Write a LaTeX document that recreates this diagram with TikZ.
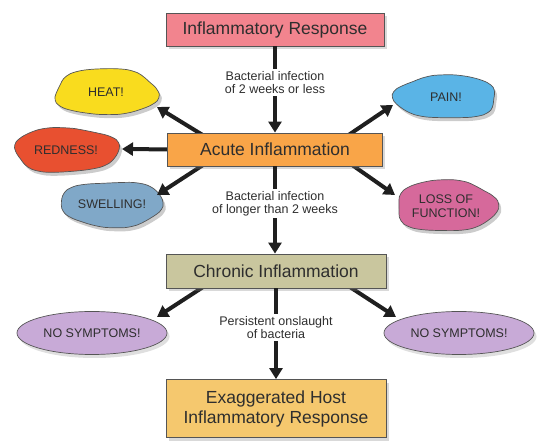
\documentclass[tikz,border=0pt]{standalone}
\usepackage{fontspec}
\setmainfont{Liberation Sans}
\usetikzlibrary{arrows.meta,shadows,backgrounds,shapes.geometric,calc}
\definecolor{cpink}{HTML}{F2848E}
\definecolor{corange}{HTML}{F9A548}
\definecolor{ckhaki}{HTML}{C9C69E}
\definecolor{cgold}{HTML}{F5C86E}
\definecolor{cheat}{HTML}{F9DC1E}
\definecolor{cred}{HTML}{E85030}
\definecolor{cswell}{HTML}{80A8C8}
\definecolor{cpain}{HTML}{5AB4E6}
\definecolor{closs}{HTML}{D6699B}
\definecolor{clav}{HTML}{C8AAD7}
\definecolor{txt}{HTML}{2E2E2E}
\definecolor{boxline}{HTML}{555555}
\newcommand{\blobshape}[3]{%
    plot[smooth cycle, variable=\t, samples at={5,20,...,350}]
    ({#1*(1+0.04*sin(3*\t+#3)+0.03*sin(5*\t+2*#3))*cos(\t)/pow(abs(cos(\t))+0.001,0.15)},
     {#2*(1+0.04*sin(3*\t+#3)+0.03*sin(5*\t+2*#3))*sin(\t)/pow(abs(sin(\t))+0.001,0.06)})}
\newcommand{\myblob}[5]{%
  \fill[black, opacity=0.2, shift={($(#1)+(2.5,3.5)$)}] \blobshape{#2}{#3}{#5};
  \draw[fill=#4, draw=boxline, line width=0.7pt, shift={(#1)}] \blobshape{#2}{#3}{#5};
}
\begin{document}
\begin{tikzpicture}[x=1pt,y=-1pt,
  box/.style={draw=boxline, line width=0.8pt, minimum height=33pt, minimum width=218pt,
    font=\fontsize{17.5}{20}\selectfont, text=txt,
    drop shadow={opacity=0.3, shadow xshift=2.5pt, shadow yshift=-3.5pt}},
  lbl/.style={fill=white, font=\fontsize{12.5}{13.5}\selectfont, text=txt, align=center, inner sep=2pt},
  cl/.style={font=\fontsize{12.5}{14}\selectfont, text=txt, align=center, inner sep=0pt},
  ell/.style={ellipse, draw=boxline, line width=0.7pt, fill=clav, minimum width=150pt, minimum height=43pt,
    font=\fontsize{12.5}{14}\selectfont, text=txt, inner sep=0pt,
    drop shadow={opacity=0.25, shadow xshift=2.5pt, shadow yshift=-3.5pt}},
  arr/.style={line width=4pt, -{Triangle[length=11pt,width=13pt]}, black!88},
]
\useasboundingbox (0,0) rectangle (547,443);

% main boxes
\node[box, fill=cpink] (resp) at (275,29.5) {Inflammatory Response};
\node[box, fill=corange, minimum width=215pt] (acute) at (275,149.5) {Acute Inflammation};
\node[box, fill=ckhaki, minimum width=220pt, minimum height=34pt] (chronic) at (276,271) {Chronic Inflammation};
\node[box, fill=cgold, minimum width=220pt, minimum height=58pt, align=center,
  font=\fontsize{17.5}{20}\selectfont] (exag) at (276,408.5) {Exaggerated Host\\Inflammatory Response};

% clouds (text nodes)
\node[cl] (heat) at (106,92) {HEAT!};
\node[cl] (red) at (66,150) {REDNESS!};
\node[cl] (swell) at (112,204) {SWELLING!};
\node[cl] (pain) at (446,97) {PAIN!};
\node[cl] (loss) at (446,206) {LOSS OF\\FUNCTION!};

% ellipses
\node[ell] (nsl) at (92,333) {NO SYMPTOMS!};
\node[ell] (nsr) at (459,333) {NO SYMPTOMS!};

\begin{pgfonlayer}{background}
  \myblob{heat}{51}{23}{cheat}{20}
  \myblob{red}{52}{22}{cred}{110}
  \myblob{swell}{51}{22.5}{cswell}{200}
  \myblob{pain}{51}{21.5}{cpain}{290}
  \myblob{loss}{50}{25.5}{closs}{60}
  % side arrows
  \draw[arr] ($(acute)+(-65,-10)$) -- ($(heat)+(51,15)$);
  \draw[arr] ($(acute)+(-100,0)$) -- ($(red)+(56,-1)$);
  \draw[arr] ($(acute)+(-65,11)$) -- ($(swell)+(45,-9)$);
  \draw[arr] ($(acute)+(68,-10.75)$) -- ($(pain)+(-53,8)$);
  \draw[arr] ($(acute)+(70,10.5)$) -- ($(loss)+(-51,-11)$);
  \draw[arr] ($(chronic)+(-69,13.5)$) -- ($(nsl)+(65,-16)$);
  \draw[arr] ($(chronic)+(70,13.5)$) -- ($(nsr)+(-63,-16)$);
\end{pgfonlayer}

% vertical arrows with labels
\draw[arr] (resp.south) -- (acute.north)
  node[lbl, pos=0.42] {Bacterial infection\\of 2 weeks or less};
\draw[arr] (acute.south) -- (acute.south |- chronic.north)
  node[lbl, pos=0.43] {Bacterial infection\\of longer than 2 weeks};
\draw[arr] (chronic.south) -- (exag.north)
  node[lbl, pos=0.43] {Persistent onslaught\\of bacteria};
\end{tikzpicture}
\end{document}
